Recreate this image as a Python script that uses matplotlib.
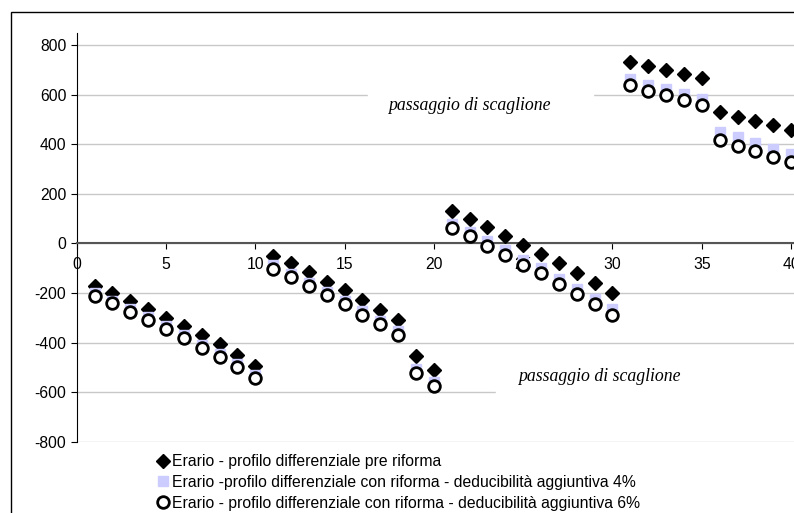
import matplotlib
matplotlib.use("Agg")
import matplotlib.pyplot as plt
from matplotlib.patches import Rectangle

plt.rcParams['font.family'] = ['Liberation Sans', 'DejaVu Sans']
plt.rcParams['axes.unicode_minus'] = False

# Dati
x = list(range(1, 41))
pre_riforma = [-172, -199, -233, -266, -300, -333, -370, -407, -450, -495,
               -50, -81, -117, -155, -188, -229, -269, -309, -454, -511,
               131, 98, 64, 29, -7, -43, -81, -121, -159, -199,
               733, 715, 699, 683, 665, 531, 510, 494, 477, 457]
riforma_4 = [-202, -231, -265, -298, -334, -371, -408, -447, -488, -532,
             -89, -123, -158, -195, -231, -274, -312, -355, -506, -558,
             78, 46, 9, -28, -67, -101, -143, -183, -224, -266,
             661, 640, 621, 602, 583, 449, 428, 404, 381, 360]
riforma_6 = [-212, -242, -276, -309, -346, -383, -421, -460, -500, -544,
             -102, -137, -172, -208, -246, -289, -327, -370, -524, -574,
             60, 29, -10, -47, -87, -121, -164, -204, -246, -289,
             638, 615, 597, 578, 558, 417, 394, 372, 349, 328]

labels = ['Erario - profilo differenziale pre riforma',
          'Erario -profilo differenziale con riforma - deducibilità aggiuntiva 4%',
          'Erario - profilo differenziale con riforma - deducibilità aggiuntiva 6%']

fig = plt.figure(figsize=(7.94, 5.13), dpi=100)
ax = fig.add_axes([0.0966, 0.139, 1.0122, 0.7974])
ax.patch.set_alpha(0)

ax.plot(x, pre_riforma, 'D', color='black', ms=7.4, zorder=3, label=labels[0])
ax.plot(x, riforma_4, 's', color='#ccccff', ms=7.2, zorder=3.1, label=labels[1])
ax.plot(x, riforma_6, 'o', mfc='white', mec='black', mew=2, ms=8.4, zorder=3.2, label=labels[2])

ax.set_xlim(0, 45)
ax.set_ylim(-800, 850)
ax.set_xticks(range(0, 50, 5))
ax.set_yticks(range(-800, 1000, 200))
ax.tick_params(labelsize=11.3, length=4, direction='out', colors='black')
ax.tick_params(axis='x', pad=5.5)

ax.grid(axis='y', color='#c8c8c8', lw=1)
ax.set_axisbelow(True)
for s in ['top', 'right']:
    ax.spines[s].set_visible(False)
ax.spines['bottom'].set_position(('data', 0))
ax.spines['bottom'].set_color('#555555')
ax.spines['bottom'].set_linewidth(1.5)
ax.spines['left'].set_color('black')

# riquadri bianchi dietro le note
ax.add_patch(Rectangle((16.3, 520), 12.6, 130, color='white', zorder=1))
ax.add_patch(Rectangle((23.5, -640), 22, 170, color='white', zorder=1))
ax.text(22.0, 558, 'passaggio di scaglione', fontsize=12.8, style='italic',
        family='Liberation Serif', ha='center', va='center', zorder=2)
ax.text(29.25, -538, 'passaggio di scaglione', fontsize=12.8, style='italic',
        family='Liberation Serif', ha='center', va='center', zorder=2)

leg = fig.legend(loc='upper left', bbox_to_anchor=(0.199, 0.115), frameon=False,
                 fontsize=11.3, handlelength=0.7, handletextpad=0.2,
                 labelspacing=0.37, borderpad=0, borderaxespad=0)

# cornice esterna
fig.add_artist(Rectangle((0.0139, -0.05), 1.1, 1.0266, transform=fig.transFigure,
                         fill=False, edgecolor='black', lw=1, zorder=10))

fig.savefig('out.png', dpi=100)
